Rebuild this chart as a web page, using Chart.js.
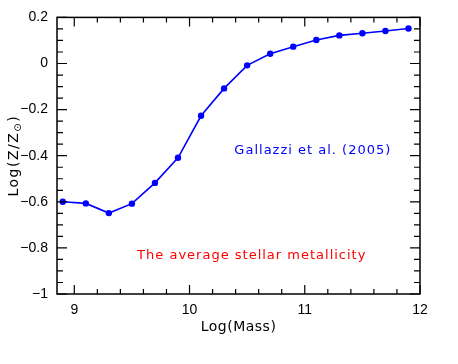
<!DOCTYPE html>
<html>
<head>
<meta charset="utf-8">
<script src="https://cdn.jsdelivr.net/npm/chart.js@4/dist/chart.umd.min.js"></script>
<style>
html,body{margin:0;padding:0;background:#fff;}
#wrap{width:458px;height:364px;position:relative;}
</style>
</head>
<body>
<div id="wrap"><canvas id="c" width="458" height="364"></canvas></div>
<script>
// ---- data ----
const logMass = [8.9, 9.1, 9.3, 9.5, 9.7, 9.9, 10.1, 10.3, 10.5, 10.7, 10.9, 11.1, 11.3, 11.5, 11.7, 11.9];
const logZ    = [-0.60, -0.607, -0.649, -0.608, -0.518, -0.409, -0.227, -0.108, -0.008, 0.042, 0.073, 0.102, 0.122, 0.131, 0.141, 0.152];
const xTicks = [9, 10, 11, 12];
const yTicks = [-1, -0.8, -0.6, -0.4, -0.2, 0, 0.2];
const xTitle = "Log(Mass)";
const yTitleMain = "Log(Z/Z";
const yTitleSub = "\u2299";
const yTitleEnd = ")";
const notes = [
  {text: "Gallazzi et al. (2005)", x: 11.07, y: -0.38, color: "#0000ff"},
  {text: "The average stellar metallicity", x: 10.54, y: -0.832, color: "#ff0000"}
];

const FONT = "'Liberation Sans', Arial, sans-serif";
const TFONT = "'DejaVu Sans', sans-serif";

const framePlugin = {
  id: 'frame',
  afterDraw(chart) {
    const ctx = chart.ctx;
    const a = chart.chartArea;
    const xs = chart.scales.x, ys = chart.scales.y;
    ctx.save();
    ctx.strokeStyle = '#000';
    ctx.lineWidth = 1.5;
    ctx.strokeRect(a.left, a.top, a.right - a.left, a.bottom - a.top);
    ctx.lineWidth = 1.2;
    ctx.beginPath();
    for (let i = Math.round(xs.min * 5); i <= Math.round(xs.max * 5); i++) {
      const v = i / 5;
      if (v < xs.min - 1e-9 || v > xs.max + 1e-9) continue;
      const px = xs.getPixelForValue(v);
      const len = (i % 5 === 0) ? 9 : 5;
      ctx.moveTo(px, a.bottom); ctx.lineTo(px, a.bottom - len);
      ctx.moveTo(px, a.top); ctx.lineTo(px, a.top + len);
    }
    for (let i = Math.round(ys.min * 20); i <= Math.round(ys.max * 20); i++) {
      const v = i / 20;
      const py = ys.getPixelForValue(v);
      const len = (i % 4 === 0) ? 10 : 6;
      ctx.moveTo(a.left, py); ctx.lineTo(a.left + len, py);
      ctx.moveTo(a.right, py); ctx.lineTo(a.right - len, py);
    }
    ctx.stroke();

    // annotations
    ctx.font = "13px " + TFONT;
    ctx.letterSpacing = "1px";
    ctx.textAlign = 'center';
    ctx.textBaseline = 'middle';
    notes.forEach(n => {
      ctx.fillStyle = n.color;
      ctx.fillText(n.text, xs.getPixelForValue(n.x), ys.getPixelForValue(n.y));
    });

    // x title
    ctx.fillStyle = '#000';
    ctx.font = "14px " + TFONT;
    ctx.letterSpacing = "0.5px";
    ctx.fillText(xTitle, (a.left + a.right) / 2, 327);

    // y title with subscript
    const cy = (a.top + a.bottom) / 2;
    ctx.translate(13, cy);
    ctx.rotate(-Math.PI / 2);
    ctx.letterSpacing = "1.5px";
    const f1 = "14px " + TFONT, f2 = "10px " + TFONT;
    ctx.font = f1; const w1 = ctx.measureText(yTitleMain).width; const w3 = ctx.measureText(yTitleEnd).width;
    ctx.font = f2; const w2 = ctx.measureText(yTitleSub).width;
    let x0 = -(w1 + w2 + w3) / 2;
    ctx.textAlign = 'left';
    ctx.textBaseline = 'alphabetic';
    ctx.font = f1; ctx.fillText(yTitleMain, x0, 5); x0 += w1;
    ctx.font = f2; ctx.fillText(yTitleSub, x0, 8); x0 += w2;
    ctx.font = f1; ctx.fillText(yTitleEnd, x0, 5);
    ctx.restore();
  }
};

new Chart(document.getElementById('c'), {
  type: 'scatter',
  data: {
    datasets: [{
      data: logMass.map((x, i) => ({x: x, y: logZ[i]})),
      showLine: true,
      borderColor: '#0000ff',
      backgroundColor: '#0000ff',
      borderWidth: 1.6,
      pointRadius: 3.2,
      pointHoverRadius: 3.2,
      pointBorderWidth: 0
    }]
  },
  options: {
    responsive: false,
    animation: false,
    events: [],
    layout: {padding: {top: 15, right: 38, left: 0, bottom: 0}},
    plugins: {legend: {display: false}, tooltip: {enabled: false}},
    scales: {
      x: {
        type: 'linear', min: 8.85, max: 12,
        afterBuildTicks: s => { s.ticks = xTicks.map(v => ({value: v})); },
        afterFit: s => { s.height = 70; },
        grid: {display: false, drawTicks: false},
        border: {display: false},
        ticks: {color: '#000', font: {family: FONT, size: 14}, padding: 8, maxRotation: 0,
                callback: v => String(v)}
      },
      y: {
        type: 'linear', min: -1, max: 0.2,
        afterBuildTicks: s => { s.ticks = yTicks.map(v => ({value: v})); },
        afterFit: s => { s.width = 57; },
        grid: {display: false, drawTicks: false},
        border: {display: false},
        ticks: {color: '#000', font: {family: FONT, size: 14}, padding: 9,
                callback: v => (Math.round(v * 10) / 10).toString().replace('-', '\u2212')}
      }
    }
  },
  plugins: [framePlugin]
});
</script>
</body>
</html>
